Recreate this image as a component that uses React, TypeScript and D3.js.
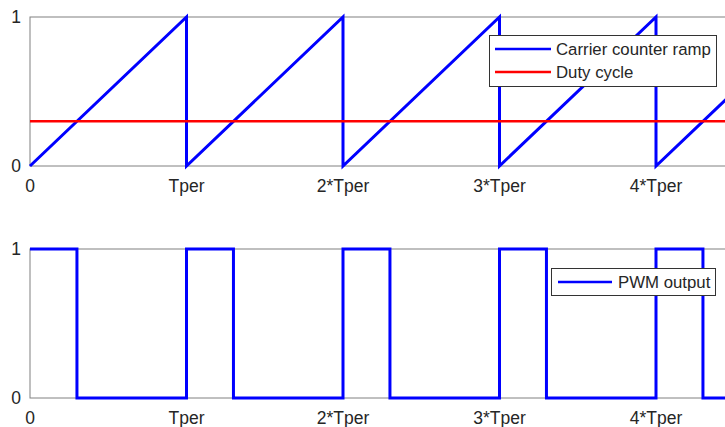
import React, { useEffect, useRef } from 'react';
import * as d3 from 'd3';

// x in units of Tper
const tickValues = [0, 1, 2, 3, 4];
const tickLabels = ['0', 'Tper', '2*Tper', '3*Tper', '4*Tper'];
const dutyCycle = 0.3;
const xEnd = 4.5;

// carrier counter ramp (sawtooth corners)
const rampT = [0, 1, 1, 2, 2, 3, 3, 4, 4, 4.5];
const rampV = [0, 1, 0, 1, 0, 1, 0, 1, 0, 0.5];

// PWM output (step corners)
const pwmT = [0, 0.3, 0.3, 1, 1, 1.3, 1.3, 2, 2, 2.3, 2.3, 3, 3, 3.3, 3.3, 4, 4, 4.3, 4.3, 4.5];
const pwmV = [1, 1, 0, 0, 1, 1, 0, 0, 1, 1, 0, 0, 1, 1, 0, 0, 1, 1, 0, 0];

export default function App() {
  const svgRef = useRef<SVGSVGElement>(null);

  useEffect(() => {
    const width = 725;
    const height = 427;
    const svg = d3.select(svgRef.current).attr('width', width).attr('height', height);
    svg.selectAll('*').remove();

    const left = 30;
    const x = d3.scaleLinear().domain([0, xEnd]).range([left, left + xEnd * 156.5]);
    const font = 'Liberation Sans, Arial, sans-serif';
    const textCol = '#262626';
    const boxCol = '#808080';

    const panels = [
      { top: 17, bottom: 166 },
      { top: 249, bottom: 398 },
    ];

    panels.forEach((p, pi) => {
      const y = d3.scaleLinear().domain([0, 1]).range([p.bottom, p.top]);
      const g = svg.append('g');
      // box
      g.append('rect').attr('x', x(0)).attr('y', p.top).attr('width', x(xEnd) - x(0))
        .attr('height', p.bottom - p.top).attr('fill', 'none').attr('stroke', boxCol).attr('stroke-width', 1);

      // x tick labels
      g.selectAll('.xt').data(tickValues).join('text').attr('class', 'xt')
        .attr('x', d => x(d)).attr('y', p.bottom + 20).attr('dy', '0.35em')
        .attr('text-anchor', 'middle').attr('font-family', font).attr('font-size', 17.5)
        .attr('fill', textCol).text((d, i) => tickLabels[i]);

      // y tick labels
      g.selectAll('.yt').data([0, 1]).join('text').attr('class', 'yt')
        .attr('x', left - 9).attr('y', d => y(d)).attr('dy', '0.35em')
        .attr('text-anchor', 'end').attr('font-family', font).attr('font-size', 17.5)
        .attr('fill', textCol).text(d => String(d));

      const line = d3.line<[number, number]>().x(d => x(d[0])).y(d => y(d[1]));

      if (pi === 0) {
        g.append('path').datum(rampT.map((t, i) => [t, rampV[i]] as [number, number]))
          .attr('d', line).attr('fill', 'none').attr('stroke', '#0000ff').attr('stroke-width', 3)
          .attr('stroke-linejoin', 'miter');
        g.append('path').datum([[0, dutyCycle], [xEnd, dutyCycle]] as [number, number][])
          .attr('d', line).attr('fill', 'none').attr('stroke', '#ff0000').attr('stroke-width', 2.5);

        // legend
        const lg = g.append('g');
        lg.append('rect').attr('x', 489.5).attr('y', 35.5).attr('width', 227).attr('height', 51)
          .attr('fill', '#fff').attr('stroke', '#333').attr('stroke-width', 1);
        const items = [
          { label: 'Carrier counter ramp', color: '#0000ff', yy: 49 },
          { label: 'Duty cycle', color: '#ff0000', yy: 72 },
        ];
        items.forEach(it => {
          lg.append('line').attr('x1', 495).attr('x2', 551).attr('y1', it.yy).attr('y2', it.yy)
            .attr('stroke', it.color).attr('stroke-width', 2.5);
          lg.append('text').attr('x', 556).attr('y', it.yy).attr('dy', '0.35em')
            .attr('font-family', font).attr('font-size', 16.8).attr('fill', textCol).text(it.label);
        });
      } else {
        g.append('path').datum(pwmT.map((t, i) => [t, pwmV[i]] as [number, number]))
          .attr('d', line).attr('fill', 'none').attr('stroke', '#0000ff').attr('stroke-width', 3);

        const lg = g.append('g');
        lg.append('rect').attr('x', 551.5).attr('y', 268.5).attr('width', 164).attr('height', 27)
          .attr('fill', '#fff').attr('stroke', '#333').attr('stroke-width', 1);
        lg.append('line').attr('x1', 558).attr('x2', 612).attr('y1', 282).attr('y2', 282)
          .attr('stroke', '#0000ff').attr('stroke-width', 2.5);
        lg.append('text').attr('x', 618).attr('y', 282).attr('dy', '0.35em')
          .attr('font-family', font).attr('font-size', 16.8).attr('fill', textCol).text('PWM output');
      }
    });
  }, []);

  return (
    <div style={{ position: 'absolute', left: 0, top: 0, width: 725, height: 427, background: '#fff' }}>
      <svg ref={svgRef} style={{ display: 'block' }} />
    </div>
  );
}
